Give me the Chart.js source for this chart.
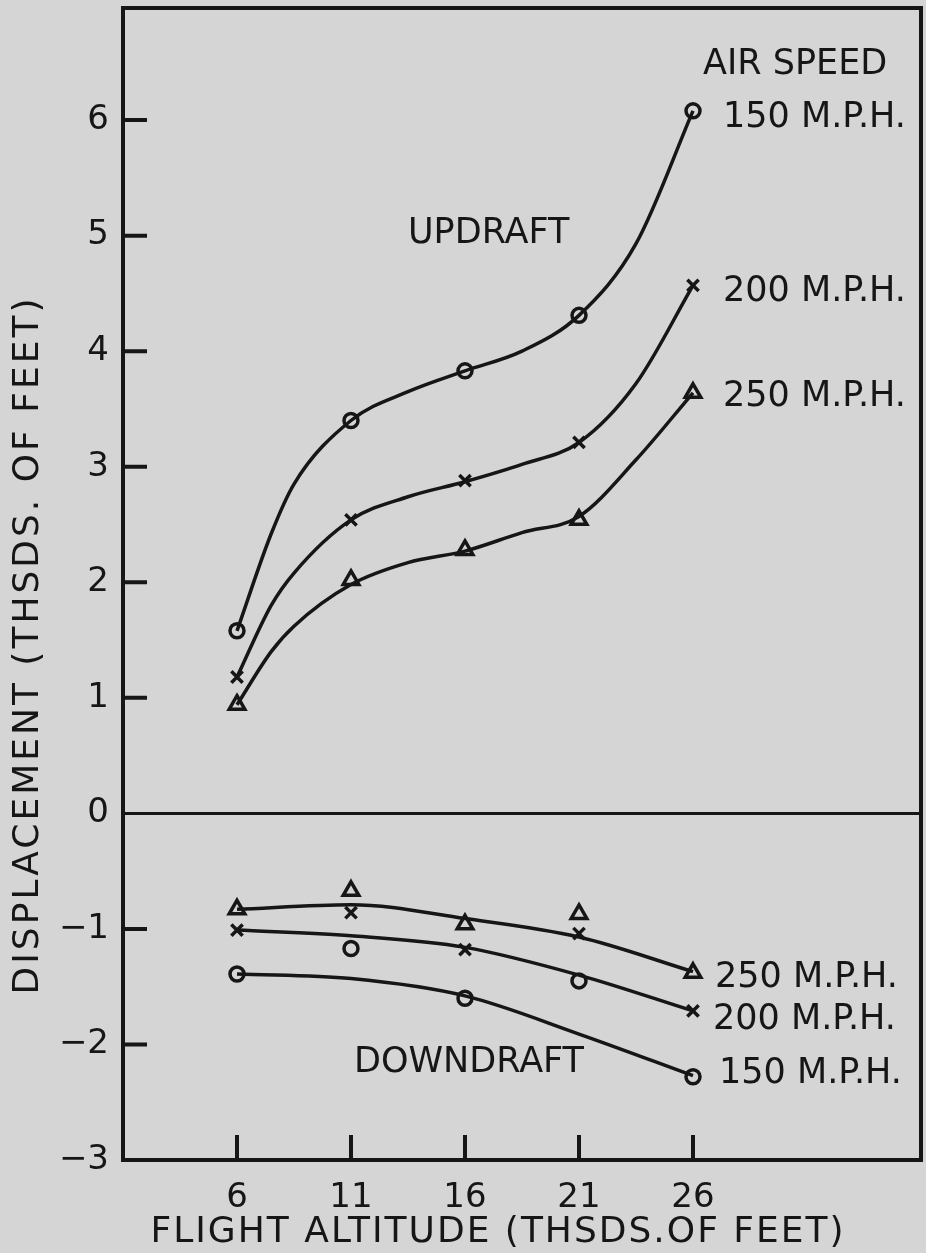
<!DOCTYPE html>
<html>
<head>
<meta charset="utf-8">
<script src="https://cdn.jsdelivr.net/npm/chart.js@4.4.1/dist/chart.umd.min.js"></script>
<style>
  html, body { margin: 0; padding: 0; background: #d5d5d5; }
  #wrap { width: 926px; height: 1253px; }
</style>
</head>
<body>
<div id="wrap"><canvas id="chart" width="926" height="1253"></canvas></div>
<script>
const altitudes = [6, 11, 16, 21, 26];
const yTicks = [-3, -2, -1, 0, 1, 2, 3, 4, 5, 6];

// updraft: plotted points
const up150 = [1.58, 3.40, 3.83, 4.31, 6.08];
const up200 = [1.18, 2.54, 2.88, 3.21, 4.57];
const up250 = [0.94, 2.02, 2.28, 2.54, 3.64];

// updraft: faired curves, read at these altitudes
const upCurveAlt = [6, 7.5, 8.5, 11, 13.5, 16, 18.5, 21, 23.5, 26];
const up150Curve = [1.58, 2.42, 2.85, 3.40, 3.65, 3.83, 4.00, 4.31, 4.93, 6.08];
const up200Curve = [1.18, 1.80, 2.08, 2.54, 2.74, 2.87, 3.02, 3.21, 3.72, 4.57];
const up250Curve = [0.94, 1.40, 1.62, 1.98, 2.17, 2.27, 2.43, 2.57, 3.06, 3.64];

// downdraft: plotted points
const down150 = [-1.39, -1.17, -1.60, -1.45, -2.28];
const down200 = [-1.01, -0.86, -1.18, -1.04, -1.71];
const down250 = [-0.83, -0.67, -0.96, -0.87, -1.38];

// downdraft: faired curves
const down150Curve = [-1.39, -1.43, -1.58, -1.91, -2.27];
const down200Curve = [-1.01, -1.06, -1.16, -1.40, -1.71];
const down250Curve = [-0.83, -0.79, -0.91, -1.07, -1.37];

const ink = "#161616";
const paper = "#d5d5d5";
const font = "'DejaVu Sans', sans-serif";

const pts = (xs, arr) => xs.map((x, i) => ({ x: x, y: arr[i] }));

function curve(xs, arr) {
	return {
		data: pts(xs, arr),
		showLine: true,
		borderColor: ink,
		borderWidth: 3.5,
		cubicInterpolationMode: "monotone",
		pointRadius: 0,
	};
}

function marks(arr, style, r) {
	return {
		data: pts(altitudes, arr),
		showLine: false,
		pointStyle: style,
		pointRadius: r,
		borderColor: ink,
		backgroundColor: paper,
		pointBorderWidth: 3.5,
	};
}

const paperBg = {
	id: "paperBg",
	beforeDraw(chart) {
		const c = chart.ctx;
		c.save();
		c.fillStyle = paper;
		c.fillRect(0, 0, chart.width, chart.height);
		c.restore();
	},
};

const decor = {
	id: "decor",
	afterDraw(chart) {
		const c = chart.ctx;
		const a = chart.chartArea;
		const xs = chart.scales.x;
		const ys = chart.scales.y;
		c.save();
		c.strokeStyle = ink;
		c.lineWidth = 4;
		c.strokeRect(a.left, a.top, a.right - a.left, a.bottom - a.top);

		// inward tick marks
		c.beginPath();
		yTicks.forEach(v => {
			if (v === 0 || v === -3) return;
			const y = ys.getPixelForValue(v);
			c.moveTo(a.left, y);
			c.lineTo(a.left + 24, y);
		});
		altitudes.forEach(v => {
			const x = xs.getPixelForValue(v);
			c.moveTo(x, a.bottom);
			c.lineTo(x, a.bottom - 25);
		});
		c.stroke();

		c.fillStyle = ink;
		c.textBaseline = "middle";
		c.textAlign = "left";
		c.font = "35px " + font;
		const x26 = xs.getPixelForValue(26);
		c.fillText("AIR SPEED", 703, 65);
		c.fillText("150 M.P.H.", x26 + 30, 118);
		c.fillText("200 M.P.H.", x26 + 30, 292);
		c.fillText("250 M.P.H.", x26 + 30, 397);
		c.fillText("UPDRAFT", 408, 234);
		c.fillText("250 M.P.H.", x26 + 22, 978);
		c.fillText("200 M.P.H.", x26 + 20, 1020);
		c.fillText("150 M.P.H.", x26 + 26, 1074);
		c.fillText("DOWNDRAFT", 354, 1063);

		c.textAlign = "center";
		c.font = "36px " + font;
		c.letterSpacing = "2px";
		c.fillText("FLIGHT ALTITUDE (THSDS.OF FEET)", 498, 1233);
		c.letterSpacing = "3px";
		c.translate(29, 645);
		c.rotate(-Math.PI / 2);
		c.fillText("DISPLACEMENT (THSDS. OF FEET)", 0, 0);
		c.restore();
	},
};

new Chart(document.getElementById("chart"), {
	type: "scatter",
	data: {
		datasets: [
			curve(upCurveAlt, up150Curve),
			curve(upCurveAlt, up200Curve),
			curve(upCurveAlt, up250Curve),
			curve(altitudes, down150Curve),
			curve(altitudes, down200Curve),
			curve(altitudes, down250Curve),
			marks(up150, "circle", 7),
			marks(up200, "crossRot", 8),
			marks(up250, "triangle", 9),
			marks(down150, "circle", 7),
			marks(down200, "crossRot", 8),
			marks(down250, "triangle", 9),
		],
	},
	options: {
		responsive: false,
		animation: false,
		devicePixelRatio: 1,
		layout: { autoPadding: false, padding: { top: 8, right: 5, left: 0, bottom: 0 } },
		plugins: {
			legend: { display: false },
			tooltip: { enabled: false },
		},
		scales: {
			x: {
				type: "linear",
				min: 1,
				max: 36,
				afterBuildTicks: s => { s.ticks = altitudes.map(v => ({ value: v })); },
				afterFit: s => {
					s.height = 93;
					s.paddingLeft = 0;
					s.paddingRight = 0;
				},
				grid: { display: false },
				border: { display: false },
				ticks: {
					color: ink,
					padding: 10,
					font: { family: font, size: 34 },
				},
			},
			y: {
				type: "linear",
				min: -3,
				max: 6.97,
				afterBuildTicks: s => { s.ticks = yTicks.map(v => ({ value: v })); },
				afterFit: s => {
					s.width = 123;
					s.paddingTop = 0;
					s.paddingBottom = 0;
				},
				grid: {
					drawTicks: false,
					lineWidth: 3,
					color: ctx => (ctx.tick && ctx.tick.value === 0 ? ink : "rgba(0,0,0,0)"),
				},
				border: { display: false },
				ticks: {
					color: ink,
					padding: 14,
					font: { family: font, size: 34 },
					callback: v => (v < 0 ? "\u2212" + Math.abs(v) : String(v)),
				},
			},
		},
	},
	plugins: [paperBg, decor],
});
</script>
</body>
</html>
